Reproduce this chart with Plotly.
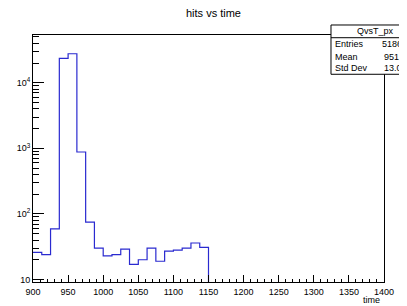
import plotly.graph_objects as go

# ---- data ----
bin_edges = [900, 912.5, 925, 937.5, 950, 962.5, 975, 987.5, 1000, 1012.5,
             1025, 1037.5, 1050, 1062.5, 1075, 1087.5, 1100, 1112.5, 1125, 1137.5, 1150]
counts = [26, 24, 59, 23500, 27700, 880, 75, 30, 23, 24,
          29, 17, 20, 30, 19, 27, 28, 30, 36, 31]
x_tick_vals = [900, 950, 1000, 1050, 1100, 1150, 1200, 1250, 1300, 1350, 1400]
y_tick_vals = [10, 100, 1000, 10000]
y_tick_text = ["10", "10<sup>2</sup>", "10<sup>3</sup>", "10<sup>4</sup>"]
y_minor_vals = [m * 10 ** d for d in range(1, 5) for m in range(2, 10)]
stats_labels = ["Entries", "Mean", "Std Dev"]
stats_values = ["5186", "951.", "13.0"]   # as visible (clipped at window edge)
hist_name = "QvsT_px"

# step outline
xs = bin_edges[:-1] + [bin_edges[-1], bin_edges[-1]]
ys = counts + [counts[-1], 0.1]

fig = go.Figure()
fig.add_trace(go.Scatter(x=xs, y=ys, mode="lines", line=dict(shape="hv", color="#2a2ad0", width=1.2),
                         hoverinfo="skip", showlegend=False))

font = "Liberation Sans, Arial, sans-serif"
# page body has an 8px default margin, so the figure is sized/offset to compensate
fig.update_layout(
    width=399, height=298,
    margin=dict(l=25, r=23, t=27, b=24, autoexpand=False),
    paper_bgcolor="white", plot_bgcolor="white",
    font=dict(family=font, size=9, color="black"),
    title=dict(text="hits vs time", x=0.515, xanchor="center", y=0.982, yanchor="middle",
               font=dict(family=font, size=11)),
    showlegend=False,
)
fig.update_xaxes(
    range=[900, 1400], showgrid=False, zeroline=False, automargin=False,
    showline=True, linecolor="black", linewidth=1, mirror=True,
    tickmode="array", tickvals=x_tick_vals, ticks="inside", ticklen=7, tickcolor="black",
    minor=dict(ticks="inside", ticklen=3.5, dtick=10, tick0=900, tickcolor="black"),
    tickfont=dict(size=9), ticklabelstandoff=1,
)
fig.update_yaxes(
    type="log", range=[0.962, 4.728], showgrid=False, zeroline=False, automargin=False,
    showline=True, linecolor="black", linewidth=1, mirror=True,
    tickmode="array", tickvals=y_tick_vals, ticktext=y_tick_text,
    ticks="inside", ticklen=11, tickcolor="black",
    minor=dict(ticks="inside", ticklen=6, tickmode="array", tickvals=y_minor_vals, tickcolor="black"),
    tickfont=dict(size=9),
)

# stats box
fig.add_shape(type="rect", xref="paper", yref="paper", x0=0.849, x1=1.11, y0=0.841, y1=1.0405,
              line=dict(color="black", width=1), fillcolor="white", layer="above")
fig.add_shape(type="line", xref="paper", yref="paper", x0=0.849, x1=1.11, y0=0.989, y1=0.989,
              line=dict(color="black", width=1), layer="above")
fig.add_annotation(xref="paper", yref="paper", x=0.975, y=1.016, text=hist_name, showarrow=False,
                   xanchor="center", yanchor="middle", font=dict(size=9))
for lab, val, yy in zip(stats_labels, stats_values, [0.963, 0.912, 0.868]):
    fig.add_annotation(xref="paper", yref="paper", x=0.855, y=yy, text=lab, showarrow=False,
                       xanchor="left", yanchor="middle", font=dict(size=9))
    fig.add_annotation(xref="paper", yref="paper", x=1.058, y=yy, text=val, showarrow=False,
                       xanchor="right", yanchor="middle", font=dict(size=9))

fig.add_annotation(xref="paper", yref="paper", x=0.995, y=-0.072, text="time", showarrow=False,
                   xanchor="right", yanchor="middle", font=dict(size=9))

fig.write_html("out.html")
